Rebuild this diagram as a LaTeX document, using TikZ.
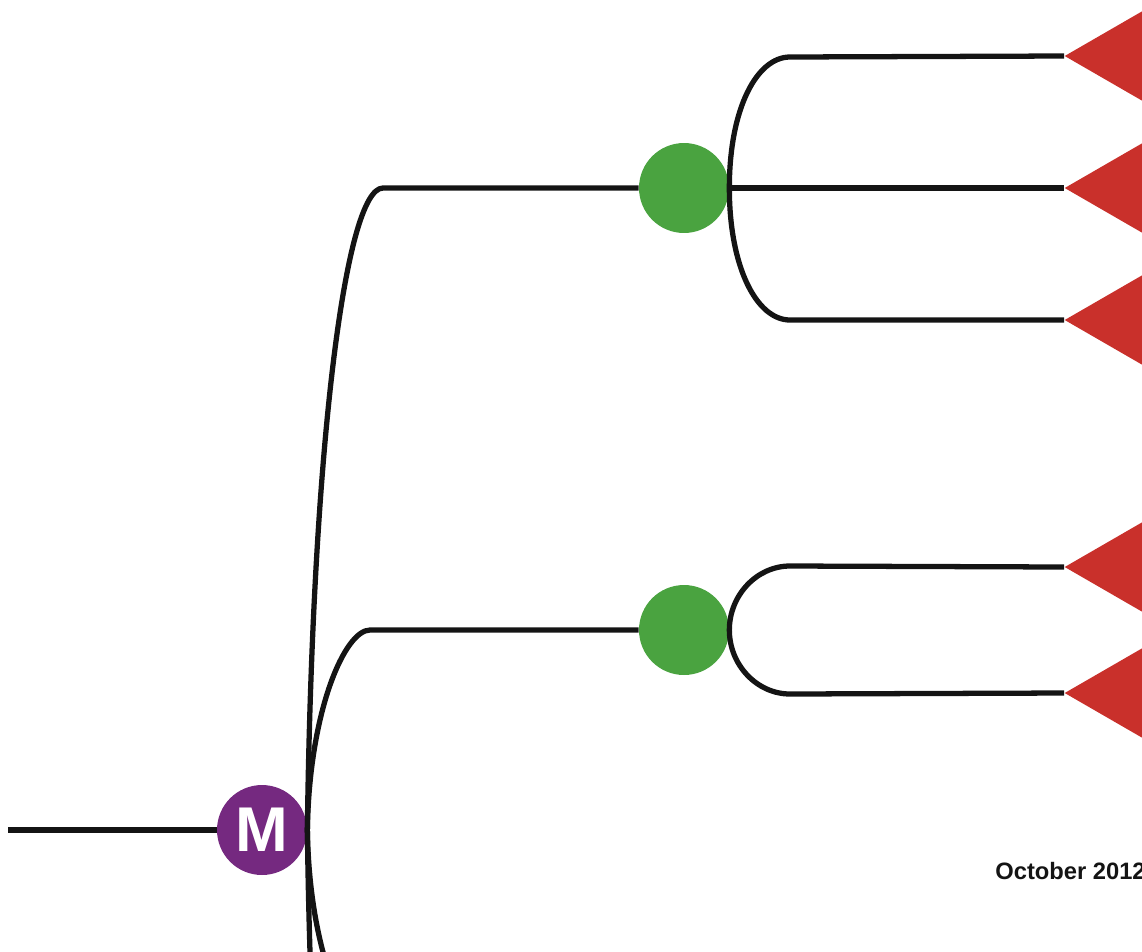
\documentclass[tikz,border=0pt]{standalone}
\usepackage{fontspec}
\setsansfont{Liberation Sans}
\usepackage{tikz}
\usetikzlibrary{shapes.geometric}
\definecolor{iueaoq}{rgb}{0.46,0.16,0.5}
\definecolor{taaerh}{rgb}{0.29,0.64,0.25}
\definecolor{dorqea}{rgb}{0.79,0.19,0.17}
\definecolor{qqqqqq}{rgb}{0.08,0.08,0.08}

\begin{document}
\begin{tikzpicture}[line cap=butt,line join=round,x=0.02cm,y=-0.02cm,
	branch/.style={line width=3pt,color=qqqqqq},
	hub/.style={circle,fill=taaerh,inner sep=0pt,minimum size=1.8cm},
	leaf/.style={isosceles triangle,isosceles triangle apex angle=60,shape border rotate=180,fill=dorqea,inner sep=0pt,minimum width=2.4cm,anchor=apex}]
	\useasboundingbox (0,0) rectangle (1142,951);
	\clip (0,0) rectangle (1142,951);
	\node[circle,fill=iueaoq,text=white,inner sep=0pt,minimum size=1.8cm,font=\sffamily\bfseries\fontsize{36}{36}\selectfont] (m) at (262,830) {M};
	\node[hub] (g1) at (684,188) {};
	\node[hub] (g2) at (684,630) {};
	\node[leaf] (t1) at (1064,56) {};
	\node[leaf] (t2) at (1064,188) {};
	\node[leaf] (t3) at (1064,320) {};
	\node[leaf] (t4) at (1064,567) {};
	\node[leaf] (t5) at (1064,693) {};
	\coordinate (s) at (8,830);
	\coordinate (c1) at (383,188);
	\coordinate (c2) at (370,630);
	\coordinate (c3) at (383,1472);
	\coordinate (c4) at (370,1030);
	\coordinate (b1) at (790,57);
	\coordinate (b3) at (790,320);
	\coordinate (b4) at (790,566);
	\coordinate (b5) at (790,694);
	\draw [branch] (s) -- (m);
	\draw [branch] (m.east) .. controls +(5,-380) and +(-38,0) .. (c1) -- (g1);
	\draw [branch] (m.east) .. controls +(5,380) and +(-38,0) .. (c3);
	\draw [branch] (m.east) .. controls +(2,-120) and +(-25,0) .. (c2) -- (g2);
	\draw [branch] (m.east) .. controls +(2,120) and +(-25,0) .. (c4);
	\draw [branch] (g1) -- (t2.apex);
	\draw [branch] (g1.east) .. controls +(0,-80) and +(-33,0) .. (b1) -- (t1.apex);
	\draw [branch] (g1.east) .. controls +(0,80) and +(-33,0) .. (b3) -- (t3.apex);
	\draw [branch] (g2.east) .. controls +(0,-35) and +(-33,0) .. (b4) -- (t4.apex);
	\draw [branch] (g2.east) .. controls +(0,35) and +(-33,0) .. (b5) -- (t5.apex);
	\node[anchor=base west,inner sep=0pt,text=qqqqqq,font=\sffamily\bfseries\fontsize{13.5}{13.5}\selectfont] (date) at (995,879) {October 2012};
\end{tikzpicture}
\end{document}
